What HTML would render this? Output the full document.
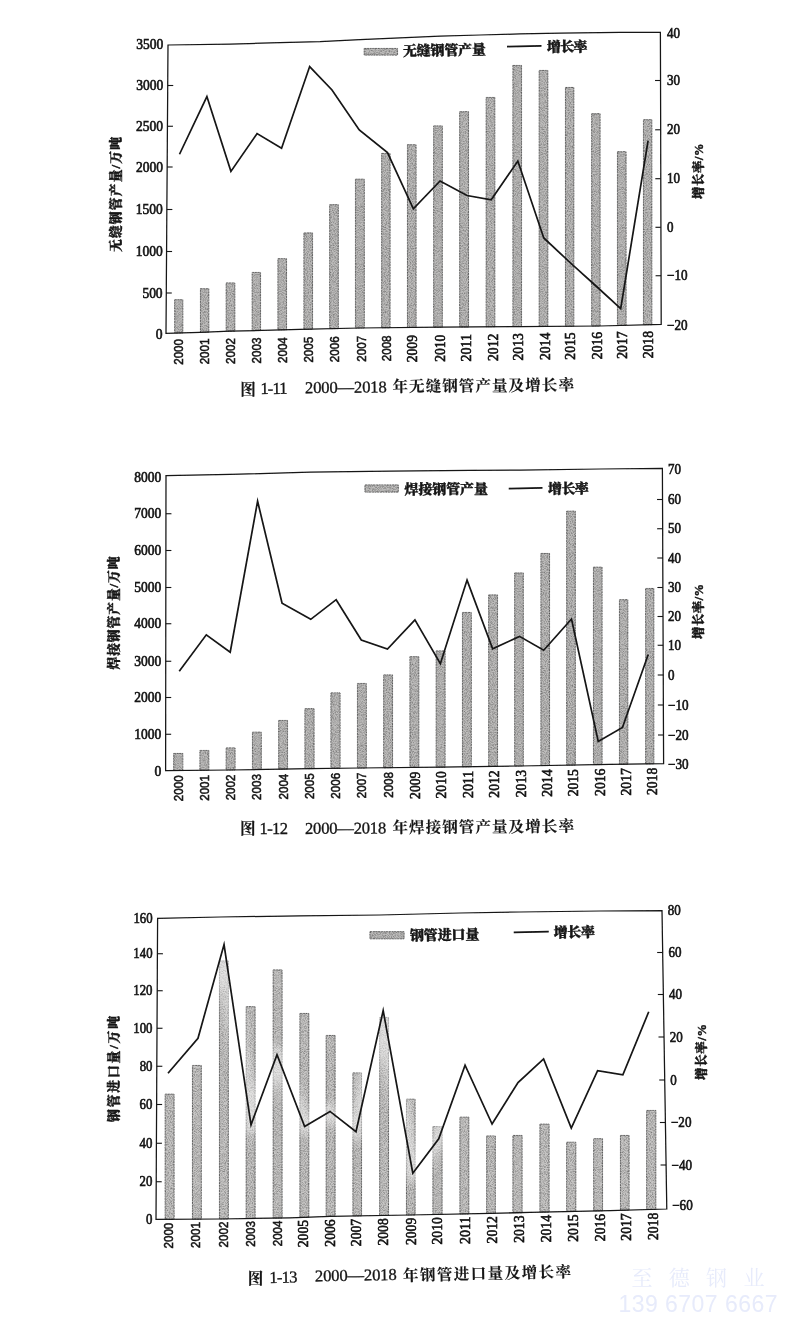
<!DOCTYPE html>
<html lang="zh"><head><meta charset="utf-8"><title>图 1-11 ~ 图 1-13 钢管产量及增长率</title>
<style>
html,body{margin:0;padding:0;background:#fff;}
body{width:800px;height:1320px;overflow:hidden;position:relative;}
svg{display:block;position:absolute;left:0;top:0;}
text{fill:#141414;}
.ns{font-family:"Liberation Serif","Noto Serif CJK SC",serif;font-size:13.8px;stroke:#141414;stroke-width:0.6px;}
.na{font-family:"Liberation Sans","Noto Sans CJK SC",sans-serif;font-size:12.6px;font-weight:bold;}
.ya{font-family:"Liberation Sans","Noto Sans CJK SC",sans-serif;font-size:13.4px;}
.ys{font-family:"Liberation Serif","Noto Serif CJK SC",serif;font-size:13.8px;stroke:#141414;stroke-width:0.6px;}
.cj{font-family:"Liberation Serif","Noto Serif CJK SC",serif;font-weight:900;}
.cap{font-family:"Liberation Serif","Noto Serif CJK SC",serif;font-weight:400;font-size:16.6px;}
.capc{font-family:"Liberation Serif","Noto Serif CJK SC",serif;font-weight:700;font-size:15.6px;}
.wm1{font-family:"Liberation Serif","Noto Serif CJK SC",serif;font-size:21px;fill:#e7ebfb;}
.wm2{font-family:"Liberation Sans","Noto Sans CJK SC",sans-serif;font-size:23px;fill:#e7ebfb;}
</style></head><body>
<svg width="800" height="1320" viewBox="0 0 800 1320">
<defs>
<filter id="soft" x="-5%" y="-5%" width="110%" height="110%"><feGaussianBlur stdDeviation="0.4"/></filter>
<filter id="bar" x="-2%" y="-2%" width="104%" height="104%" color-interpolation-filters="sRGB">
<feTurbulence type="fractalNoise" baseFrequency="0.95" numOctaves="2" seed="7" result="n"/>
<feColorMatrix in="n" type="matrix" values="0 0 0 0 0  0 0 0 0 0  0 0 0 0 0  0.75 0 0 0 -0.29" result="sp"/>
<feComposite in="sp" in2="SourceAlpha" operator="in" result="spc"/>
<feMerge result="m"><feMergeNode in="SourceGraphic"/><feMergeNode in="spc"/></feMerge>
<feGaussianBlur in="m" stdDeviation="0.4"/>
</filter>
<filter id="halo" x="-5%" y="-5%" width="110%" height="110%"><feGaussianBlur stdDeviation="5"/></filter>
<filter id="soft2" x="-5%" y="-5%" width="110%" height="110%"><feGaussianBlur stdDeviation="0.7"/></filter>
</defs>
<rect width="800" height="1320" fill="#ffffff"/>

<g id="chart1">
<g filter="url(#bar)">
<rect x="174.70" y="299.70" width="8.10" height="33.23" fill="#bdbcbb" stroke="#767676" stroke-width="1" stroke-dasharray="2.2 0.5"/>
<rect x="200.45" y="288.70" width="8.35" height="43.43" fill="#bdbcbb" stroke="#767676" stroke-width="1" stroke-dasharray="2.2 0.5"/>
<rect x="226.20" y="282.95" width="8.60" height="48.24" fill="#bdbcbb" stroke="#767676" stroke-width="1" stroke-dasharray="2.2 0.5"/>
<rect x="252.20" y="272.45" width="8.35" height="58.10" fill="#bdbcbb" stroke="#767676" stroke-width="1" stroke-dasharray="2.2 0.5"/>
<rect x="277.95" y="258.70" width="8.60" height="71.17" fill="#bdbcbb" stroke="#767676" stroke-width="1" stroke-dasharray="2.2 0.5"/>
<rect x="303.95" y="232.95" width="8.60" height="96.26" fill="#bdbcbb" stroke="#767676" stroke-width="1" stroke-dasharray="2.2 0.5"/>
<rect x="329.70" y="204.70" width="8.60" height="123.91" fill="#bdbcbb" stroke="#767676" stroke-width="1" stroke-dasharray="2.2 0.5"/>
<rect x="355.45" y="179.20" width="8.85" height="148.80" fill="#bdbcbb" stroke="#767676" stroke-width="1" stroke-dasharray="2.2 0.5"/>
<rect x="381.70" y="153.45" width="8.35" height="174.29" fill="#bdbcbb" stroke="#767676" stroke-width="1" stroke-dasharray="2.2 0.5"/>
<rect x="407.45" y="144.70" width="8.60" height="182.78" fill="#bdbcbb" stroke="#767676" stroke-width="1" stroke-dasharray="2.2 0.5"/>
<rect x="433.70" y="125.95" width="8.60" height="201.27" fill="#bdbcbb" stroke="#767676" stroke-width="1" stroke-dasharray="2.2 0.5"/>
<rect x="459.70" y="111.70" width="8.85" height="215.29" fill="#bdbcbb" stroke="#767676" stroke-width="1" stroke-dasharray="2.2 0.5"/>
<rect x="486.20" y="97.45" width="8.60" height="229.31" fill="#bdbcbb" stroke="#767676" stroke-width="1" stroke-dasharray="2.2 0.5"/>
<rect x="512.95" y="65.45" width="8.60" height="261.07" fill="#bdbcbb" stroke="#767676" stroke-width="1" stroke-dasharray="2.2 0.5"/>
<rect x="539.20" y="70.45" width="8.60" height="255.90" fill="#bdbcbb" stroke="#767676" stroke-width="1" stroke-dasharray="2.2 0.5"/>
<rect x="565.45" y="87.45" width="8.35" height="238.74" fill="#bdbcbb" stroke="#767676" stroke-width="1" stroke-dasharray="2.2 0.5"/>
<rect x="591.70" y="113.70" width="8.35" height="212.33" fill="#bdbcbb" stroke="#767676" stroke-width="1" stroke-dasharray="2.2 0.5"/>
<rect x="617.45" y="151.70" width="8.60" height="173.70" fill="#bdbcbb" stroke="#767676" stroke-width="1" stroke-dasharray="2.2 0.5"/>
<rect x="643.45" y="119.70" width="8.35" height="204.98" fill="#bdbcbb" stroke="#767676" stroke-width="1" stroke-dasharray="2.2 0.5"/>
<rect x="364.20" y="48.45" width="33.35" height="6.60" fill="#bdbcbb" stroke="#767676" stroke-width="1" stroke-dasharray="2.2 0.5"/>
</g>
<g filter="url(#soft)" fill="none" stroke="#141414" stroke-linejoin="miter">
<path d="M168.00 45.00 L230.00 44.20 L280.00 42.60 L320.00 41.60 L360.00 39.60 L400.00 37.80 L440.00 36.10 L480.00 35.00 L520.00 33.90 L560.00 33.20 L620.00 32.30 L660.40 32.40 L661.20 324.30 L600.00 326.00 L520.00 326.50 L440.00 327.20 L360.00 328.00 L300.00 329.40 L262.50 330.40 L230.00 331.20 L200.00 332.30 L166.00 333.30 Z" stroke-width="1.25"/>
<path d="M167.72 85.50 h5.5" stroke-width="1.1"/>
<path d="M167.44 126.25 h5.5" stroke-width="1.1"/>
<path d="M167.15 167.00 h5.5" stroke-width="1.1"/>
<path d="M166.86 209.50 h5.5" stroke-width="1.1"/>
<path d="M166.57 251.50 h5.5" stroke-width="1.1"/>
<path d="M166.28 293.00 h5.5" stroke-width="1.1"/>
<path d="M660.53 80.50 h-5.5" stroke-width="1.1"/>
<path d="M660.67 129.80 h-5.5" stroke-width="1.1"/>
<path d="M660.80 178.70 h-5.5" stroke-width="1.1"/>
<path d="M660.93 227.30 h-5.5" stroke-width="1.1"/>
<path d="M661.07 275.75 h-5.5" stroke-width="1.1"/>
<polyline points="179.50,154.25 206.90,96.52 230.91,171.38 257.07,133.58 281.57,148.26 309.67,66.55 332.00,90.00 359.26,129.99 387.48,152.52 413.36,208.82 440.04,180.97 467.00,195.49 491.18,199.85 517.85,161.08 543.77,237.99 570.00,262.50 596.00,286.00 620.69,308.59 648.10,140.70" stroke-width="1.7" stroke-miterlimit="10"/>
<path d="M507.00 46.55 L541.50 45.95" stroke-width="1.7"/>
</g>
<g filter="url(#soft)">
<text class="ns" x="163.30" y="49.20" text-anchor="end" textLength="27.0" lengthAdjust="spacingAndGlyphs">3500</text>
<text class="ns" x="163.19" y="90.10" text-anchor="end" textLength="27.0" lengthAdjust="spacingAndGlyphs">3000</text>
<text class="ns" x="163.07" y="130.85" text-anchor="end" textLength="27.0" lengthAdjust="spacingAndGlyphs">2500</text>
<text class="ns" x="162.96" y="171.60" text-anchor="end" textLength="27.0" lengthAdjust="spacingAndGlyphs">2000</text>
<text class="ns" x="162.84" y="214.10" text-anchor="end" textLength="27.0" lengthAdjust="spacingAndGlyphs">1500</text>
<text class="ns" x="162.73" y="256.10" text-anchor="end" textLength="27.0" lengthAdjust="spacingAndGlyphs">1000</text>
<text class="ns" x="162.61" y="297.60" text-anchor="end" textLength="20.2" lengthAdjust="spacingAndGlyphs">500</text>
<text class="ns" x="162.50" y="339.20" text-anchor="end" textLength="6.8" lengthAdjust="spacingAndGlyphs">0</text>
<text class="ns" x="667.00" y="37.85" textLength="13.0" lengthAdjust="spacingAndGlyphs">40</text>
<text class="ns" x="667.00" y="85.10" textLength="13.0" lengthAdjust="spacingAndGlyphs">30</text>
<text class="ns" x="667.00" y="134.40" textLength="13.0" lengthAdjust="spacingAndGlyphs">20</text>
<text class="ns" x="667.00" y="183.30" textLength="13.0" lengthAdjust="spacingAndGlyphs">10</text>
<text class="ns" x="667.00" y="231.90" textLength="6.5" lengthAdjust="spacingAndGlyphs">0</text>
<text class="ns" x="667.00" y="280.35" textLength="20.5" lengthAdjust="spacingAndGlyphs">−10</text>
<text class="ns" x="667.00" y="329.60" textLength="20.5" lengthAdjust="spacingAndGlyphs">−20</text>
<text class="ya" transform="translate(183.30 339.00) rotate(-90)" text-anchor="end" textLength="25.8" lengthAdjust="spacingAndGlyphs" stroke="#141414" stroke-width="0.55">2000</text>
<text class="ya" transform="translate(209.30 338.56) rotate(-90)" text-anchor="end" textLength="25.8" lengthAdjust="spacingAndGlyphs" stroke="#141414" stroke-width="0.55">2001</text>
<text class="ya" transform="translate(235.30 338.11) rotate(-90)" text-anchor="end" textLength="25.8" lengthAdjust="spacingAndGlyphs" stroke="#141414" stroke-width="0.55">2002</text>
<text class="ya" transform="translate(261.05 337.67) rotate(-90)" text-anchor="end" textLength="25.8" lengthAdjust="spacingAndGlyphs" stroke="#141414" stroke-width="0.55">2003</text>
<text class="ya" transform="translate(287.05 337.22) rotate(-90)" text-anchor="end" textLength="25.8" lengthAdjust="spacingAndGlyphs" stroke="#141414" stroke-width="0.55">2004</text>
<text class="ya" transform="translate(312.80 336.78) rotate(-90)" text-anchor="end" textLength="25.8" lengthAdjust="spacingAndGlyphs" stroke="#141414" stroke-width="0.55">2005</text>
<text class="ya" transform="translate(339.00 336.33) rotate(-90)" text-anchor="end" textLength="25.8" lengthAdjust="spacingAndGlyphs" stroke="#141414" stroke-width="0.55">2006</text>
<text class="ya" transform="translate(365.55 335.89) rotate(-90)" text-anchor="end" textLength="25.8" lengthAdjust="spacingAndGlyphs" stroke="#141414" stroke-width="0.55">2007</text>
<text class="ya" transform="translate(391.30 335.44) rotate(-90)" text-anchor="end" textLength="25.8" lengthAdjust="spacingAndGlyphs" stroke="#141414" stroke-width="0.55">2008</text>
<text class="ys" transform="translate(417.30 335.00) rotate(-90)" text-anchor="end" textLength="27.3" lengthAdjust="spacingAndGlyphs">2009</text>
<text class="ys" transform="translate(444.50 334.56) rotate(-90)" text-anchor="end" textLength="27.3" lengthAdjust="spacingAndGlyphs">2010</text>
<text class="ys" transform="translate(470.50 334.11) rotate(-90)" text-anchor="end" textLength="27.3" lengthAdjust="spacingAndGlyphs">2011</text>
<text class="ys" transform="translate(497.50 333.67) rotate(-90)" text-anchor="end" textLength="27.3" lengthAdjust="spacingAndGlyphs">2012</text>
<text class="ys" transform="translate(523.25 333.22) rotate(-90)" text-anchor="end" textLength="27.3" lengthAdjust="spacingAndGlyphs">2013</text>
<text class="ys" transform="translate(550.00 332.78) rotate(-90)" text-anchor="end" textLength="27.3" lengthAdjust="spacingAndGlyphs">2014</text>
<text class="ys" transform="translate(575.25 332.33) rotate(-90)" text-anchor="end" textLength="27.3" lengthAdjust="spacingAndGlyphs">2015</text>
<text class="ys" transform="translate(602.00 331.89) rotate(-90)" text-anchor="end" textLength="27.3" lengthAdjust="spacingAndGlyphs">2016</text>
<text class="ys" transform="translate(627.00 331.44) rotate(-90)" text-anchor="end" textLength="27.3" lengthAdjust="spacingAndGlyphs">2017</text>
<text class="ys" transform="translate(653.25 331.00) rotate(-90)" text-anchor="end" textLength="27.3" lengthAdjust="spacingAndGlyphs">2018</text>
<text class="cj" transform="translate(119.60 194.50) rotate(-90)" text-anchor="middle" textLength="115.0" lengthAdjust="spacing" font-size="12.8" stroke="#141414" stroke-width="0.4">无缝钢管产量/万吨</text>
<text class="cj" transform="translate(702.50 171.30) rotate(-90)" text-anchor="middle" textLength="55.4" lengthAdjust="spacing" font-size="12.4" stroke="#141414" stroke-width="0.4">增长率/%</text>
<text class="cj" transform="translate(403.00 56.00) rotate(-1.0)" textLength="83.0" lengthAdjust="spacing" font-size="14" stroke="#141414" stroke-width="0.4">无缝钢管产量</text>
<text class="cj" transform="translate(547.00 52.10) rotate(-1.0)" textLength="40.5" lengthAdjust="spacing" font-size="14" stroke="#141414" stroke-width="0.4">增长率</text>
<text class="capc" transform="translate(240.30 395.20) rotate(0)" textLength="13.4" lengthAdjust="spacing" stroke="#141414" stroke-width="0.1">图</text>
<text class="cap" transform="translate(260.50 394.00) rotate(-0.5)" textLength="27.0" lengthAdjust="spacing" stroke="#141414" stroke-width="0.32">1-11</text>
<text class="cap" transform="translate(305.00 393.20) rotate(-0.6)" textLength="81.8" lengthAdjust="spacing" stroke="#141414" stroke-width="0.32">2000—2018</text>
<text class="capc" transform="translate(392.50 392.00) rotate(-0.5)" textLength="181.5" lengthAdjust="spacing" stroke="#141414" stroke-width="0.1">年无缝钢管产量及增长率</text>
</g>
</g>
<g id="chart2">
<g filter="url(#bar)">
<rect x="173.70" y="753.45" width="9.10" height="17.03" fill="#bdbcbb" stroke="#767676" stroke-width="1" stroke-dasharray="2.2 0.5"/>
<rect x="199.95" y="750.45" width="8.85" height="19.79" fill="#bdbcbb" stroke="#767676" stroke-width="1" stroke-dasharray="2.2 0.5"/>
<rect x="226.20" y="747.95" width="8.85" height="22.04" fill="#bdbcbb" stroke="#767676" stroke-width="1" stroke-dasharray="2.2 0.5"/>
<rect x="252.45" y="732.20" width="8.85" height="37.33" fill="#bdbcbb" stroke="#767676" stroke-width="1" stroke-dasharray="2.2 0.5"/>
<rect x="278.70" y="720.45" width="8.85" height="48.62" fill="#bdbcbb" stroke="#767676" stroke-width="1" stroke-dasharray="2.2 0.5"/>
<rect x="304.95" y="708.70" width="9.10" height="59.91" fill="#bdbcbb" stroke="#767676" stroke-width="1" stroke-dasharray="2.2 0.5"/>
<rect x="330.95" y="692.95" width="9.10" height="75.34" fill="#bdbcbb" stroke="#767676" stroke-width="1" stroke-dasharray="2.2 0.5"/>
<rect x="357.45" y="683.45" width="8.85" height="84.53" fill="#bdbcbb" stroke="#767676" stroke-width="1" stroke-dasharray="2.2 0.5"/>
<rect x="383.70" y="674.95" width="8.85" height="92.77" fill="#bdbcbb" stroke="#767676" stroke-width="1" stroke-dasharray="2.2 0.5"/>
<rect x="409.95" y="656.70" width="8.85" height="110.76" fill="#bdbcbb" stroke="#767676" stroke-width="1" stroke-dasharray="2.2 0.5"/>
<rect x="436.20" y="650.95" width="8.85" height="116.24" fill="#bdbcbb" stroke="#767676" stroke-width="1" stroke-dasharray="2.2 0.5"/>
<rect x="462.45" y="612.45" width="8.85" height="154.35" fill="#bdbcbb" stroke="#767676" stroke-width="1" stroke-dasharray="2.2 0.5"/>
<rect x="488.70" y="594.95" width="8.85" height="171.45" fill="#bdbcbb" stroke="#767676" stroke-width="1" stroke-dasharray="2.2 0.5"/>
<rect x="514.70" y="572.95" width="8.60" height="193.06" fill="#bdbcbb" stroke="#767676" stroke-width="1" stroke-dasharray="2.2 0.5"/>
<rect x="540.95" y="553.45" width="8.60" height="212.10" fill="#bdbcbb" stroke="#767676" stroke-width="1" stroke-dasharray="2.2 0.5"/>
<rect x="566.70" y="511.20" width="8.60" height="253.89" fill="#bdbcbb" stroke="#767676" stroke-width="1" stroke-dasharray="2.2 0.5"/>
<rect x="593.45" y="567.20" width="8.60" height="197.42" fill="#bdbcbb" stroke="#767676" stroke-width="1" stroke-dasharray="2.2 0.5"/>
<rect x="619.45" y="599.70" width="8.35" height="164.50" fill="#bdbcbb" stroke="#767676" stroke-width="1" stroke-dasharray="2.2 0.5"/>
<rect x="645.70" y="588.45" width="8.10" height="175.36" fill="#bdbcbb" stroke="#767676" stroke-width="1" stroke-dasharray="2.2 0.5"/>
<rect x="364.95" y="484.95" width="33.35" height="7.10" fill="#bdbcbb" stroke="#767676" stroke-width="1" stroke-dasharray="2.2 0.5"/>
</g>
<g filter="url(#soft)" fill="none" stroke="#141414" stroke-linejoin="miter">
<path d="M166.00 475.60 L230.00 474.40 L310.00 472.20 L390.00 471.20 L470.00 470.40 L520.00 470.10 L600.00 469.00 L662.40 468.40 L663.60 763.60 L610.00 764.40 L520.00 766.00 L440.00 767.20 L360.00 768.00 L310.00 768.60 L230.00 770.00 L165.60 770.60 Z" stroke-width="1.25"/>
<path d="M165.95 513.75 h5.5" stroke-width="1.1"/>
<path d="M165.90 550.50 h5.5" stroke-width="1.1"/>
<path d="M165.85 587.50 h5.5" stroke-width="1.1"/>
<path d="M165.80 623.75 h5.5" stroke-width="1.1"/>
<path d="M165.75 661.25 h5.5" stroke-width="1.1"/>
<path d="M165.70 697.50 h5.5" stroke-width="1.1"/>
<path d="M165.65 734.25 h5.5" stroke-width="1.1"/>
<path d="M662.53 499.50 h-5.5" stroke-width="1.1"/>
<path d="M662.65 528.75 h-5.5" stroke-width="1.1"/>
<path d="M662.76 558.00 h-5.5" stroke-width="1.1"/>
<path d="M662.88 587.50 h-5.5" stroke-width="1.1"/>
<path d="M663.00 616.50 h-5.5" stroke-width="1.1"/>
<path d="M663.12 645.25 h-5.5" stroke-width="1.1"/>
<path d="M663.24 675.00 h-5.5" stroke-width="1.1"/>
<path d="M663.36 705.00 h-5.5" stroke-width="1.1"/>
<path d="M663.48 735.00 h-5.5" stroke-width="1.1"/>
<polyline points="179.25,671.25 206.30,634.86 230.21,652.27 257.60,501.22 282.06,603.20 310.74,619.33 336.17,599.68 361.28,639.96 387.46,649.09 414.93,619.85 440.36,663.69 467.04,580.10 492.66,648.86 519.50,636.36 543.71,650.25 571.49,619.03 598.24,741.44 622.46,727.47 648.25,654.50" stroke-width="1.7" stroke-miterlimit="10"/>
<path d="M508.75 488.55 L542.50 487.95" stroke-width="1.7"/>
</g>
<g filter="url(#soft)">
<text class="ns" x="161.30" y="481.85" text-anchor="end" textLength="27.0" lengthAdjust="spacingAndGlyphs">8000</text>
<text class="ns" x="161.30" y="518.35" text-anchor="end" textLength="27.0" lengthAdjust="spacingAndGlyphs">7000</text>
<text class="ns" x="161.30" y="555.10" text-anchor="end" textLength="27.0" lengthAdjust="spacingAndGlyphs">6000</text>
<text class="ns" x="161.30" y="592.10" text-anchor="end" textLength="27.0" lengthAdjust="spacingAndGlyphs">5000</text>
<text class="ns" x="161.30" y="628.35" text-anchor="end" textLength="27.0" lengthAdjust="spacingAndGlyphs">4000</text>
<text class="ns" x="161.30" y="665.85" text-anchor="end" textLength="27.0" lengthAdjust="spacingAndGlyphs">3000</text>
<text class="ns" x="161.30" y="702.10" text-anchor="end" textLength="27.0" lengthAdjust="spacingAndGlyphs">2000</text>
<text class="ns" x="161.30" y="738.85" text-anchor="end" textLength="27.0" lengthAdjust="spacingAndGlyphs">1000</text>
<text class="ns" x="161.30" y="775.85" text-anchor="end" textLength="6.8" lengthAdjust="spacingAndGlyphs">0</text>
<text class="ns" x="668.00" y="473.85" textLength="13.0" lengthAdjust="spacingAndGlyphs">70</text>
<text class="ns" x="668.00" y="504.10" textLength="13.0" lengthAdjust="spacingAndGlyphs">60</text>
<text class="ns" x="668.00" y="533.35" textLength="13.0" lengthAdjust="spacingAndGlyphs">50</text>
<text class="ns" x="668.00" y="562.60" textLength="13.0" lengthAdjust="spacingAndGlyphs">40</text>
<text class="ns" x="668.00" y="592.10" textLength="13.0" lengthAdjust="spacingAndGlyphs">30</text>
<text class="ns" x="668.00" y="621.10" textLength="13.0" lengthAdjust="spacingAndGlyphs">20</text>
<text class="ns" x="668.00" y="649.85" textLength="13.0" lengthAdjust="spacingAndGlyphs">10</text>
<text class="ns" x="668.00" y="679.60" textLength="6.5" lengthAdjust="spacingAndGlyphs">0</text>
<text class="ns" x="668.00" y="709.60" textLength="20.5" lengthAdjust="spacingAndGlyphs">−10</text>
<text class="ns" x="668.00" y="739.60" textLength="20.5" lengthAdjust="spacingAndGlyphs">−20</text>
<text class="ns" x="668.00" y="769.10" textLength="20.5" lengthAdjust="spacingAndGlyphs">−30</text>
<text class="ya" transform="translate(183.05 775.40) rotate(-90)" text-anchor="end" textLength="25.8" lengthAdjust="spacingAndGlyphs" stroke="#141414" stroke-width="0.55">2000</text>
<text class="ya" transform="translate(208.80 774.98) rotate(-90)" text-anchor="end" textLength="25.8" lengthAdjust="spacingAndGlyphs" stroke="#141414" stroke-width="0.55">2001</text>
<text class="ya" transform="translate(235.05 774.56) rotate(-90)" text-anchor="end" textLength="25.8" lengthAdjust="spacingAndGlyphs" stroke="#141414" stroke-width="0.55">2002</text>
<text class="ya" transform="translate(261.05 774.13) rotate(-90)" text-anchor="end" textLength="25.8" lengthAdjust="spacingAndGlyphs" stroke="#141414" stroke-width="0.55">2003</text>
<text class="ya" transform="translate(287.55 773.71) rotate(-90)" text-anchor="end" textLength="25.8" lengthAdjust="spacingAndGlyphs" stroke="#141414" stroke-width="0.55">2004</text>
<text class="ya" transform="translate(313.55 773.29) rotate(-90)" text-anchor="end" textLength="25.8" lengthAdjust="spacingAndGlyphs" stroke="#141414" stroke-width="0.55">2005</text>
<text class="ya" transform="translate(339.80 772.87) rotate(-90)" text-anchor="end" textLength="25.8" lengthAdjust="spacingAndGlyphs" stroke="#141414" stroke-width="0.55">2006</text>
<text class="ya" transform="translate(366.30 772.44) rotate(-90)" text-anchor="end" textLength="25.8" lengthAdjust="spacingAndGlyphs" stroke="#141414" stroke-width="0.55">2007</text>
<text class="ya" transform="translate(393.05 772.02) rotate(-90)" text-anchor="end" textLength="25.8" lengthAdjust="spacingAndGlyphs" stroke="#141414" stroke-width="0.55">2008</text>
<text class="ys" transform="translate(419.50 771.60) rotate(-90)" text-anchor="end" textLength="27.3" lengthAdjust="spacingAndGlyphs">2009</text>
<text class="ys" transform="translate(445.75 771.18) rotate(-90)" text-anchor="end" textLength="27.3" lengthAdjust="spacingAndGlyphs">2010</text>
<text class="ys" transform="translate(472.50 770.76) rotate(-90)" text-anchor="end" textLength="27.3" lengthAdjust="spacingAndGlyphs">2011</text>
<text class="ys" transform="translate(499.00 770.33) rotate(-90)" text-anchor="end" textLength="27.3" lengthAdjust="spacingAndGlyphs">2012</text>
<text class="ys" transform="translate(525.50 769.91) rotate(-90)" text-anchor="end" textLength="27.3" lengthAdjust="spacingAndGlyphs">2013</text>
<text class="ys" transform="translate(551.75 769.49) rotate(-90)" text-anchor="end" textLength="27.3" lengthAdjust="spacingAndGlyphs">2014</text>
<text class="ys" transform="translate(578.25 769.07) rotate(-90)" text-anchor="end" textLength="27.3" lengthAdjust="spacingAndGlyphs">2015</text>
<text class="ys" transform="translate(604.50 768.64) rotate(-90)" text-anchor="end" textLength="27.3" lengthAdjust="spacingAndGlyphs">2016</text>
<text class="ys" transform="translate(630.50 768.22) rotate(-90)" text-anchor="end" textLength="27.3" lengthAdjust="spacingAndGlyphs">2017</text>
<text class="ys" transform="translate(657.00 767.80) rotate(-90)" text-anchor="end" textLength="27.3" lengthAdjust="spacingAndGlyphs">2018</text>
<text class="cj" transform="translate(117.90 613.00) rotate(-90)" text-anchor="middle" textLength="113.0" lengthAdjust="spacing" font-size="12.8" stroke="#141414" stroke-width="0.4">焊接钢管产量/万吨</text>
<text class="cj" transform="translate(703.25 611.50) rotate(-90)" text-anchor="middle" textLength="55.0" lengthAdjust="spacing" font-size="12.4" stroke="#141414" stroke-width="0.4">增长率/%</text>
<text class="cj" transform="translate(404.50 494.40) rotate(-0.4)" textLength="83.5" lengthAdjust="spacing" font-size="14" stroke="#141414" stroke-width="0.4">焊接钢管产量</text>
<text class="cj" transform="translate(548.00 493.75) rotate(-0.4)" textLength="40.8" lengthAdjust="spacing" font-size="14" stroke="#141414" stroke-width="0.4">增长率</text>
<text class="capc" transform="translate(240.00 834.00) rotate(0)" textLength="13.0" lengthAdjust="spacing" stroke="#141414" stroke-width="0.1">图</text>
<text class="cap" transform="translate(259.50 834.00) rotate(-0.2)" textLength="28.5" lengthAdjust="spacing" stroke="#141414" stroke-width="0.32">1-12</text>
<text class="cap" transform="translate(305.00 833.90) rotate(-0.3)" textLength="81.2" lengthAdjust="spacing" stroke="#141414" stroke-width="0.32">2000—2018</text>
<text class="capc" transform="translate(392.50 833.10) rotate(-0.45)" textLength="181.5" lengthAdjust="spacing" stroke="#141414" stroke-width="0.1">年焊接钢管产量及增长率</text>
</g>
</g>
<g id="chart3">
<g filter="url(#bar)">
<rect x="165.20" y="1094.20" width="8.85" height="125.11" fill="#c7c6c5" stroke="#767676" stroke-width="1" stroke-dasharray="2.2 0.5"/>
<rect x="192.45" y="1065.45" width="8.85" height="153.69" fill="#c7c6c5" stroke="#767676" stroke-width="1" stroke-dasharray="2.2 0.5"/>
<rect x="219.45" y="960.95" width="8.85" height="257.98" fill="#c7c6c5" stroke="#767676" stroke-width="1" stroke-dasharray="2.2 0.5"/>
<rect x="246.20" y="1006.70" width="8.85" height="211.77" fill="#c7c6c5" stroke="#767676" stroke-width="1" stroke-dasharray="2.2 0.5"/>
<rect x="273.20" y="969.95" width="8.85" height="248.06" fill="#c7c6c5" stroke="#767676" stroke-width="1" stroke-dasharray="2.2 0.5"/>
<rect x="299.95" y="1013.45" width="8.85" height="203.81" fill="#c7c6c5" stroke="#767676" stroke-width="1" stroke-dasharray="2.2 0.5"/>
<rect x="326.20" y="1035.45" width="8.85" height="180.84" fill="#c7c6c5" stroke="#767676" stroke-width="1" stroke-dasharray="2.2 0.5"/>
<rect x="352.95" y="1072.95" width="8.60" height="142.91" fill="#c7c6c5" stroke="#767676" stroke-width="1" stroke-dasharray="2.2 0.5"/>
<rect x="379.70" y="1017.45" width="8.85" height="197.97" fill="#c7c6c5" stroke="#767676" stroke-width="1" stroke-dasharray="2.2 0.5"/>
<rect x="406.45" y="1099.20" width="8.60" height="115.78" fill="#c7c6c5" stroke="#767676" stroke-width="1" stroke-dasharray="2.2 0.5"/>
<rect x="432.95" y="1126.70" width="9.10" height="87.75" fill="#c7c6c5" stroke="#767676" stroke-width="1" stroke-dasharray="2.2 0.5"/>
<rect x="459.95" y="1117.20" width="8.85" height="96.71" fill="#c7c6c5" stroke="#767676" stroke-width="1" stroke-dasharray="2.2 0.5"/>
<rect x="486.70" y="1135.95" width="8.60" height="77.42" fill="#c7c6c5" stroke="#767676" stroke-width="1" stroke-dasharray="2.2 0.5"/>
<rect x="512.95" y="1135.45" width="9.10" height="77.26" fill="#c7c6c5" stroke="#767676" stroke-width="1" stroke-dasharray="2.2 0.5"/>
<rect x="539.95" y="1124.20" width="9.10" height="87.87" fill="#c7c6c5" stroke="#767676" stroke-width="1" stroke-dasharray="2.2 0.5"/>
<rect x="566.70" y="1142.20" width="9.10" height="69.27" fill="#c7c6c5" stroke="#767676" stroke-width="1" stroke-dasharray="2.2 0.5"/>
<rect x="593.70" y="1138.70" width="8.85" height="72.17" fill="#c7c6c5" stroke="#767676" stroke-width="1" stroke-dasharray="2.2 0.5"/>
<rect x="620.45" y="1135.45" width="8.60" height="74.73" fill="#c7c6c5" stroke="#767676" stroke-width="1" stroke-dasharray="2.2 0.5"/>
<rect x="646.70" y="1110.45" width="9.10" height="98.99" fill="#c7c6c5" stroke="#767676" stroke-width="1" stroke-dasharray="2.2 0.5"/>
<rect x="369.95" y="931.70" width="34.10" height="7.10" fill="#bdbcbb" stroke="#767676" stroke-width="1" stroke-dasharray="2.2 0.5"/>
</g>
<polyline points="168.00,1073.25 198.00,1038.25 224.25,941.25 250.75,1127.50 277.00,1053.00 304.50,1127.00 330.00,1111.25 356.25,1132.50 383.25,1007.00 412.50,1174.50 438.75,1138.75 465.00,1063.75 492.00,1125.00 518.00,1082.50 543.75,1058.25 571.25,1129.50 597.50,1070.50 623.00,1075.00 648.75,1011.75" fill="none" stroke="#ffffff" stroke-opacity="0.50" stroke-width="16" stroke-linejoin="round" filter="url(#halo)"/>
<g filter="url(#soft)" fill="none" stroke="#141414" stroke-linejoin="miter">
<path d="M157.60 918.40 L220.00 917.00 L300.00 915.80 L380.00 915.00 L460.00 913.00 L520.00 912.00 L600.00 911.00 L662.00 910.60 L666.80 1209.00 L610.00 1210.60 L530.00 1212.40 L490.00 1213.40 L410.00 1215.00 L330.00 1216.30 L290.00 1217.80 L220.00 1219.00 L156.00 1219.40 Z" stroke-width="1.25"/>
<path d="M157.41 953.75 h5.5" stroke-width="1.1"/>
<path d="M157.22 990.75 h5.5" stroke-width="1.1"/>
<path d="M157.02 1028.25 h5.5" stroke-width="1.1"/>
<path d="M156.81 1066.25 h5.5" stroke-width="1.1"/>
<path d="M156.61 1104.50 h5.5" stroke-width="1.1"/>
<path d="M156.40 1143.25 h5.5" stroke-width="1.1"/>
<path d="M156.20 1181.75 h5.5" stroke-width="1.1"/>
<path d="M662.67 952.50 h-5.5" stroke-width="1.1"/>
<path d="M663.35 994.50 h-5.5" stroke-width="1.1"/>
<path d="M664.03 1037.00 h-5.5" stroke-width="1.1"/>
<path d="M664.72 1080.00 h-5.5" stroke-width="1.1"/>
<path d="M665.41 1122.50 h-5.5" stroke-width="1.1"/>
<path d="M666.09 1165.00 h-5.5" stroke-width="1.1"/>
<polyline points="168.00,1073.25 197.98,1038.24 224.04,944.61 251.02,1124.79 277.01,1054.65 304.66,1126.54 329.99,1111.44 355.99,1131.77 383.18,1010.59 412.80,1173.22 438.74,1138.75 465.06,1065.21 492.07,1124.02 518.01,1082.50 543.60,1058.91 571.28,1128.13 597.61,1070.70 622.88,1074.79 648.75,1011.75" stroke-width="1.7" stroke-miterlimit="10"/>
<path d="M513.75 932.30 L548.75 931.70" stroke-width="1.7"/>
</g>
<g filter="url(#soft)">
<text class="ns" x="152.60" y="922.60" text-anchor="end" textLength="19.2" lengthAdjust="spacingAndGlyphs">160</text>
<text class="ns" x="152.56" y="958.35" text-anchor="end" textLength="19.2" lengthAdjust="spacingAndGlyphs">140</text>
<text class="ns" x="152.53" y="995.35" text-anchor="end" textLength="19.2" lengthAdjust="spacingAndGlyphs">120</text>
<text class="ns" x="152.49" y="1032.85" text-anchor="end" textLength="19.2" lengthAdjust="spacingAndGlyphs">100</text>
<text class="ns" x="152.45" y="1070.85" text-anchor="end" textLength="12.8" lengthAdjust="spacingAndGlyphs">80</text>
<text class="ns" x="152.41" y="1109.10" text-anchor="end" textLength="12.8" lengthAdjust="spacingAndGlyphs">60</text>
<text class="ns" x="152.38" y="1147.85" text-anchor="end" textLength="12.8" lengthAdjust="spacingAndGlyphs">40</text>
<text class="ns" x="152.34" y="1186.35" text-anchor="end" textLength="12.8" lengthAdjust="spacingAndGlyphs">20</text>
<text class="ns" x="152.30" y="1224.10" text-anchor="end" textLength="6.4" lengthAdjust="spacingAndGlyphs">0</text>
<text class="ns" x="667.80" y="915.20" textLength="13.0" lengthAdjust="spacingAndGlyphs">80</text>
<text class="ns" x="668.43" y="957.10" textLength="13.0" lengthAdjust="spacingAndGlyphs">60</text>
<text class="ns" x="669.06" y="999.10" textLength="13.0" lengthAdjust="spacingAndGlyphs">40</text>
<text class="ns" x="669.69" y="1041.60" textLength="13.0" lengthAdjust="spacingAndGlyphs">20</text>
<text class="ns" x="670.31" y="1084.60" textLength="6.5" lengthAdjust="spacingAndGlyphs">0</text>
<text class="ns" x="670.94" y="1127.10" textLength="20.5" lengthAdjust="spacingAndGlyphs">−20</text>
<text class="ns" x="671.57" y="1169.60" textLength="20.5" lengthAdjust="spacingAndGlyphs">−40</text>
<text class="ns" x="672.20" y="1210.40" textLength="20.5" lengthAdjust="spacingAndGlyphs">−60</text>
<text class="ya" transform="translate(173.30 1222.70) rotate(-90)" text-anchor="end" textLength="25.8" lengthAdjust="spacingAndGlyphs" stroke="#141414" stroke-width="0.55">2000</text>
<text class="ya" transform="translate(200.30 1222.15) rotate(-90)" text-anchor="end" textLength="25.8" lengthAdjust="spacingAndGlyphs" stroke="#141414" stroke-width="0.55">2001</text>
<text class="ya" transform="translate(227.70 1221.60) rotate(-90)" text-anchor="end" textLength="25.8" lengthAdjust="spacingAndGlyphs" stroke="#141414" stroke-width="0.55">2002</text>
<text class="ya" transform="translate(254.55 1221.05) rotate(-90)" text-anchor="end" textLength="25.8" lengthAdjust="spacingAndGlyphs" stroke="#141414" stroke-width="0.55">2003</text>
<text class="ya" transform="translate(281.80 1220.50) rotate(-90)" text-anchor="end" textLength="25.8" lengthAdjust="spacingAndGlyphs" stroke="#141414" stroke-width="0.55">2004</text>
<text class="ys" transform="translate(308.00 1219.95) rotate(-90)" text-anchor="end" textLength="27.3" lengthAdjust="spacingAndGlyphs">2005</text>
<text class="ys" transform="translate(334.50 1219.40) rotate(-90)" text-anchor="end" textLength="27.3" lengthAdjust="spacingAndGlyphs">2006</text>
<text class="ys" transform="translate(361.25 1218.85) rotate(-90)" text-anchor="end" textLength="27.3" lengthAdjust="spacingAndGlyphs">2007</text>
<text class="ys" transform="translate(388.25 1218.30) rotate(-90)" text-anchor="end" textLength="27.3" lengthAdjust="spacingAndGlyphs">2008</text>
<text class="ys" transform="translate(415.75 1217.75) rotate(-90)" text-anchor="end" textLength="27.3" lengthAdjust="spacingAndGlyphs">2009</text>
<text class="ys" transform="translate(442.25 1217.20) rotate(-90)" text-anchor="end" textLength="27.3" lengthAdjust="spacingAndGlyphs">2010</text>
<text class="ys" transform="translate(469.50 1216.65) rotate(-90)" text-anchor="end" textLength="27.3" lengthAdjust="spacingAndGlyphs">2011</text>
<text class="ys" transform="translate(496.50 1216.10) rotate(-90)" text-anchor="end" textLength="27.3" lengthAdjust="spacingAndGlyphs">2012</text>
<text class="ys" transform="translate(523.50 1215.55) rotate(-90)" text-anchor="end" textLength="27.3" lengthAdjust="spacingAndGlyphs">2013</text>
<text class="ys" transform="translate(550.75 1215.00) rotate(-90)" text-anchor="end" textLength="27.3" lengthAdjust="spacingAndGlyphs">2014</text>
<text class="ys" transform="translate(577.50 1214.45) rotate(-90)" text-anchor="end" textLength="27.3" lengthAdjust="spacingAndGlyphs">2015</text>
<text class="ys" transform="translate(604.50 1213.90) rotate(-90)" text-anchor="end" textLength="27.3" lengthAdjust="spacingAndGlyphs">2016</text>
<text class="ys" transform="translate(630.75 1213.35) rotate(-90)" text-anchor="end" textLength="27.3" lengthAdjust="spacingAndGlyphs">2017</text>
<text class="ys" transform="translate(657.75 1212.80) rotate(-90)" text-anchor="end" textLength="27.3" lengthAdjust="spacingAndGlyphs">2018</text>
<text class="cj" transform="translate(118.10 1069.00) rotate(-90)" text-anchor="middle" textLength="106.0" lengthAdjust="spacing" font-size="12.8" stroke="#141414" stroke-width="0.4">钢管进口量/万吨</text>
<text class="cj" transform="translate(705.50 1052.00) rotate(-90)" text-anchor="middle" textLength="56.0" lengthAdjust="spacing" font-size="12.4" stroke="#141414" stroke-width="0.4">增长率/%</text>
<text class="cj" transform="translate(410.00 940.40) rotate(-0.8)" textLength="69.5" lengthAdjust="spacing" font-size="14" stroke="#141414" stroke-width="0.4">钢管进口量</text>
<text class="cj" transform="translate(553.75 937.50) rotate(-0.8)" textLength="41.2" lengthAdjust="spacing" font-size="14" stroke="#141414" stroke-width="0.4">增长率</text>
<text class="capc" transform="translate(247.70 1283.70) rotate(0)" textLength="13.3" lengthAdjust="spacing" stroke="#141414" stroke-width="0.1">图</text>
<text class="cap" transform="translate(269.50 1283.00) rotate(-1.2)" textLength="28.0" lengthAdjust="spacing" stroke="#141414" stroke-width="0.32">1-13</text>
<text class="cap" transform="translate(315.00 1281.40) rotate(-1.0)" textLength="81.8" lengthAdjust="spacing" stroke="#141414" stroke-width="0.32">2000—2018</text>
<text class="capc" transform="translate(403.00 1280.90) rotate(-1.3)" textLength="168.2" lengthAdjust="spacing" stroke="#141414" stroke-width="0.1">年钢管进口量及增长率</text>
</g>
</g>
<g filter="url(#soft2)">
<text class="wm1" x="642.0" y="1285" text-anchor="middle">至</text>
<text class="wm1" x="679.3" y="1285" text-anchor="middle">德</text>
<text class="wm1" x="716.6" y="1285" text-anchor="middle">钢</text>
<text class="wm1" x="753.9" y="1285" text-anchor="middle">业</text>
<text class="wm2" x="618.5" y="1311.5" textLength="159" lengthAdjust="spacing" xml:space="preserve">139 6707 6667</text>
</g>
</svg></body></html>
